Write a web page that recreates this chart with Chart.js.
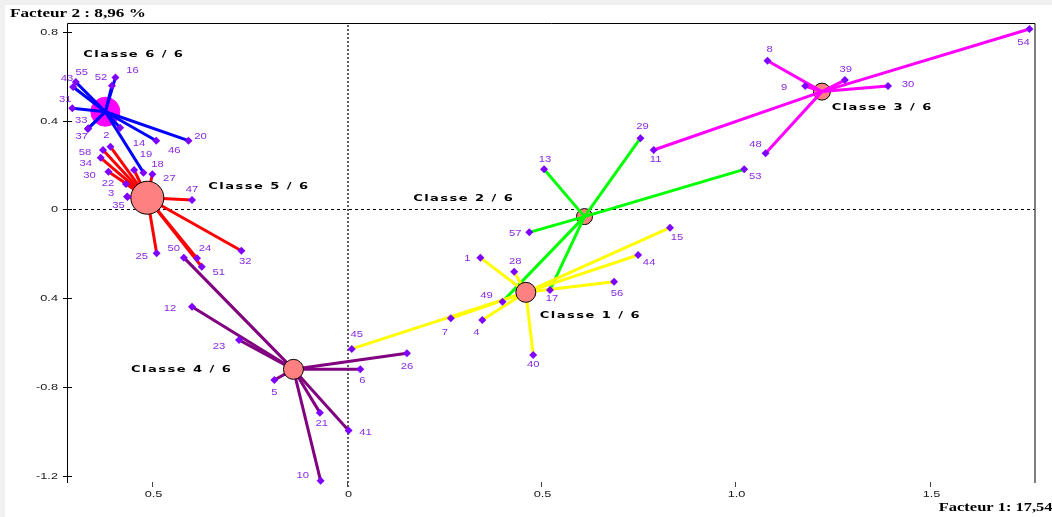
<!DOCTYPE html>
<html>
<head>
<meta charset="utf-8">
<script src="https://cdn.jsdelivr.net/npm/chart.js@4/dist/chart.umd.min.js"></script>
<style>
  html, body { margin: 0; padding: 0; background: #f0f0f0; width: 1052px; height: 517px; overflow: hidden; }
  #wrap { position: absolute; left: 5px; top: 5px; width: 1047px; height: 512px; background: #ffffff; }
  canvas { display: block; }
</style>
</head>
<body>
<div id="wrap"><canvas id="plan" width="1047" height="512"></canvas></div>
<script>
// ---- Factorial plane: axis ranges and ticks ----
const X_MIN = -0.7197, X_MAX = 1.770;
const Y_MIN = -1.232, Y_MAX = 0.8401;

const xTickValues = [-0.5, 0, 0.5, 1.0, 1.5];
const xTickLabels = ['0.5', '0', '0.5', '1.0', '1.5'];
const yTickValues = [0.8, 0.4, 0, -0.4, -0.8, -1.2];
const yTickLabels = ['0.8', '0.4', '0', '0.4', '-0.8', '-1.2'];

const axisTitleX = 'Facteur 1: 17,54';
const axisTitleY = 'Facteur 2 : 8,96 %';

// ---- Class centres (coordinates on factors 1 and 2) ----
const classTitles = ['Classe 1 / 6', 'Classe 2 / 6', 'Classe 3 / 6', 'Classe 4 / 6', 'Classe 5 / 6', 'Classe 6 / 6'];
const centroidX = [0.461, 0.612, 1.223, -0.137, -0.513, -0.621];
const centroidY = [-0.373, -0.032, 0.531, -0.720, 0.053, 0.4405];

// where each class caption is written (factor coordinates of its left end)
const classTitleX = [0.497, 0.171, 1.248, -0.555, -0.356, -0.678];
const classTitleY = [-0.478, 0.050, 0.457, -0.720, 0.103, 0.696];

// ---- Individuals of each class ----
const c1Names = ['45', '7', '4', '1', '28', '56', '44', '15', '40'];
const c1X = [0.013, 0.268, 0.349, 0.344, 0.431, 0.688, 0.750, 0.832, 0.480];
const c1Y = [-0.628, -0.490, -0.498, -0.217, -0.280, -0.325, -0.205, -0.082, -0.655];

const c2Names = ['57', '13', '29', '53', '49', '17'];
const c2X = [0.470, 0.508, 0.756, 1.023, 0.401, 0.523];
const c2Y = [-0.103, 0.181, 0.321, 0.181, -0.415, -0.363];

const c3Names = ['8', '9', '39', '30', '54', '11', '48'];
const c3X = [1.083, 1.180, 1.282, 1.393, 1.757, 0.790, 1.078];
const c3Y = [0.670, 0.556, 0.583, 0.556, 0.813, 0.268, 0.253];

const c4Names = ['50', '12', '23', '5', '6', '26', '21', '41', '10'];
const c4X = [-0.419, -0.398, -0.277, -0.186, 0.035, 0.155, -0.069, 0.005, -0.067];
const c4Y = [-0.217, -0.438, -0.588, -0.768, -0.720, -0.648, -0.915, -0.996, -1.222];

const c5Names = ['2', '58', '34', '30', '19', '22', '3', '35', '27', '47', '25', '24', '51', '32'];
const c5X = [-0.608, -0.627, -0.633, -0.613, -0.547, -0.568, -0.565, -0.564, -0.500, -0.398, -0.489, -0.385, -0.373, -0.271];
const c5Y = [0.283, 0.268, 0.233, 0.170, 0.178, 0.115, 0.058, 0.056, 0.159, 0.043, -0.197, -0.220, -0.258, -0.186];

const c6Names = ['55', '43', '52', '16', '31', '33', '37', '14', '46', '20', '18'];
const c6X = [-0.697, -0.704, -0.604, -0.595, -0.706, -0.665, -0.666, -0.583, -0.490, -0.407, -0.523];
const c6Y = [0.574, 0.552, 0.558, 0.595, 0.456, 0.366, 0.363, 0.368, 0.310, 0.310, 0.166];

// ---- Styling ----
const classLineColors = ['#ffff00', '#00ff00', '#ff00ff', '#800080', '#ff0000', '#0000ff'];
const centroidLook = [
  { r: 10,   fill: '#ff8080', stroke: '#000000', above: true },
  { r: 8,    fill: '#ff8080', stroke: '#000000', above: false },
  { r: 8.5,  fill: '#ff8080', stroke: '#000000', above: false },
  { r: 10,   fill: '#ff8080', stroke: '#000000', above: true },
  { r: 16.5, fill: '#ff8080', stroke: '#000000', above: true },
  { r: 14.5, fill: '#ff00ff', stroke: '#ff00ff', above: false }
];
const pointColor = '#7f00ff';
const labelColor = '#8a2be2';

// label nudges in pixels, keyed "class:name"
const labelNudge = {
  '0:45': [5, -14], '0:7': [-6, 14], '0:4': [-6, 12], '0:1': [-13, 1], '0:28': [1, -10],
  '0:56': [3, 12], '0:44': [11, 8], '0:15': [7, 10], '0:40': [0, 10],
  '1:57': [-14, 1], '1:13': [1, -10], '1:29': [2, -12], '1:53': [11, 7], '1:49': [-16, -6], '1:17': [2, 8],
  '2:8': [2, -11], '2:9': [-21, 1], '2:39': [1, -11], '2:30': [20, -2], '2:54': [-6, 13], '2:11': [2, 10], '2:48': [-10, -9],
  '3:50': [-10, -9], '3:12': [-22, 2], '3:23': [-20, 6], '3:5': [0, 13], '3:6': [2, 11], '3:26': [0, 13],
  '3:21': [2, 11], '3:41': [17, 2], '3:10': [-18, -5],
  '4:2': [-4, -11], '4:58': [-18, 3], '4:34': [-15, 6], '4:30': [-19, 4], '4:19': [12, -15], '4:22': [-18, 0],
  '4:3': [-16, -3], '4:35': [-9, 8], '4:27': [17, 4], '4:47': [0, -10], '4:25': [-15, 3], '4:24': [8, -10],
  '4:51': [17, 6], '4:32': [4, 11],
  '5:55': [6, -10], '5:43': [-6, -8], '5:52': [-11, -8], '5:16': [17, -7], '5:31': [-7, -9], '5:33': [-7, -8],
  '5:37': [-6, 8], '5:14': [19, 16], '5:46': [18, 10], '5:20': [12, -4], '5:18': [14, -8]
};

const classes = [
  { names: c1Names, xs: c1X, ys: c1Y },
  { names: c2Names, xs: c2X, ys: c2Y },
  { names: c3Names, xs: c3X, ys: c3Y },
  { names: c4Names, xs: c4X, ys: c4Y },
  { names: c5Names, xs: c5X, ys: c5Y },
  { names: c6Names, xs: c6X, ys: c6Y }
];

// ---- Datasets: spokes, class centres, individuals ----
const datasets = [];
const individuals = [];
classes.forEach((c, k) => {
  const centre = { x: centroidX[k], y: centroidY[k] };
  c.names.forEach((name, i) => {
    const p = { x: c.xs[i], y: c.ys[i], name: name, cls: k };
    individuals.push(p);
    datasets.push({
      data: [centre, { x: p.x, y: p.y }],
      showLine: true,
      borderColor: classLineColors[k],
      borderWidth: 3,
      pointRadius: 0,
      order: 3,
      clip: false
    });
  });
  const look = centroidLook[k];
  datasets.push({
    data: [centre],
    pointRadius: look.r,
    pointBackgroundColor: look.fill,
    pointBorderColor: look.stroke,
    pointBorderWidth: 1,
    order: look.above ? 2 : 4,
    clip: false
  });
});
datasets.push({
  data: individuals,
  pointStyle: 'rectRot',
  pointRadius: 4,
  pointBackgroundColor: pointColor,
  pointBorderColor: pointColor,
  pointBorderWidth: 0,
  order: 1,
  clip: false
});

// text drawn with a horizontal stretch
function wideText(ctx, txt, x, y, font, color, sx, align, spacing) {
  ctx.save();
  ctx.font = font;
  ctx.fillStyle = color;
  ctx.textBaseline = 'middle';
  ctx.textAlign = 'left';
  if (spacing) ctx.letterSpacing = spacing;
  const w = ctx.measureText(txt).width * sx;
  const left = align === 'center' ? x - w / 2 : align === 'right' ? x - w : x;
  ctx.translate(left, y);
  ctx.scale(sx, 1);
  ctx.fillText(txt, 0, 0);
  ctx.restore();
}

const planDecor = {
  id: 'planDecor',
  beforeDatasetsDraw(chart) {
    const { ctx, chartArea: a, scales } = chart;
    const sx = scales.x, sy = scales.y;
    ctx.save();
    // origin lines
    const x0 = Math.round(sx.getPixelForValue(0)) + 1;
    const y0 = Math.round(sy.getPixelForValue(0)) + 0.5;
    ctx.setLineDash([3, 3]);
    ctx.strokeStyle = '#000';
    ctx.lineWidth = 1;
    ctx.beginPath(); ctx.moveTo(a.left, y0); ctx.lineTo(a.right, y0); ctx.stroke();
    ctx.setLineDash([2, 2]);
    ctx.strokeStyle = '#606060';
    ctx.lineWidth = 2;
    ctx.beginPath(); ctx.moveTo(x0, a.top + 2); ctx.lineTo(x0, a.bottom + 5); ctx.stroke();
    ctx.setLineDash([]);

    // frame: left axis, top and right borders
    ctx.strokeStyle = '#000';
    ctx.lineWidth = 1;
    ctx.beginPath();
    ctx.moveTo(a.left + 0.5, a.bottom);
    ctx.lineTo(a.left + 0.5, a.top + 0.5);
    ctx.lineTo(a.right + 0.5, a.top + 0.5);
    ctx.lineTo(a.right + 0.5, a.bottom);
    ctx.stroke();

    // y ticks (crossing the axis) and labels
    yTickValues.forEach((v, i) => {
      const py = Math.round(sy.getPixelForValue(v)) + 0.5;
      ctx.beginPath(); ctx.moveTo(a.left - 4, py); ctx.lineTo(a.left + 5, py); ctx.stroke();
      wideText(ctx, yTickLabels[i], a.left - 9, py, '8.5px "Liberation Sans"', '#1a1a1a', 1.5, 'right');
    });
    // x ticks and labels
    ctx.strokeStyle = '#444';
    xTickValues.forEach((v, i) => {
      const px = Math.round(sx.getPixelForValue(v)) + 0.5;
      ctx.beginPath(); ctx.moveTo(px, a.bottom - 1); ctx.lineTo(px, a.bottom + 4); ctx.stroke();
      wideText(ctx, xTickLabels[i], px + 1, a.bottom + 12, '8.5px "Liberation Sans"', '#1a1a1a', 1.5, 'center');
    });
    // axis titles
    wideText(ctx, axisTitleY, 5, 8.5, 'bold 12px "Liberation Serif"', '#000', 1.43, 'left');
    wideText(ctx, axisTitleX, chart.width + 0.5, a.bottom + 25, 'bold 11.5px "Liberation Serif"', '#000', 1.43, 'right');
    ctx.restore();
  },
  afterDatasetsDraw(chart) {
    const { ctx, scales } = chart;
    const sx = scales.x, sy = scales.y;
    // individual labels
    individuals.forEach(p => {
      const n = labelNudge[p.cls + ':' + p.name] || [0, -10];
      const px = sx.getPixelForValue(p.x) + n[0];
      const py = sy.getPixelForValue(p.y) + n[1];
      wideText(ctx, p.name, px, py, '9px "Liberation Sans"', labelColor, 1.25, 'center');
    });
    // class captions
    classTitles.forEach((t, k) => {
      const px = sx.getPixelForValue(classTitleX[k]);
      const py = sy.getPixelForValue(classTitleY[k]);
      wideText(ctx, t, px, py, 'bold 9px "DejaVu Sans"', '#000', 1.45, 'left', '1px');
    });
  }
};

new Chart(document.getElementById('plan'), {
  type: 'scatter',
  data: { datasets: datasets },
  options: {
    responsive: false,
    animation: false,
    events: [],
    layout: { padding: { left: 62, top: 18, right: 7, bottom: 34 } },
    plugins: { legend: { display: false }, tooltip: { enabled: false } },
    scales: {
      x: { type: 'linear', min: X_MIN, max: X_MAX, display: false },
      y: { type: 'linear', min: Y_MIN, max: Y_MAX, display: false }
    }
  },
  plugins: [planDecor]
});
</script>
</body>
</html>
